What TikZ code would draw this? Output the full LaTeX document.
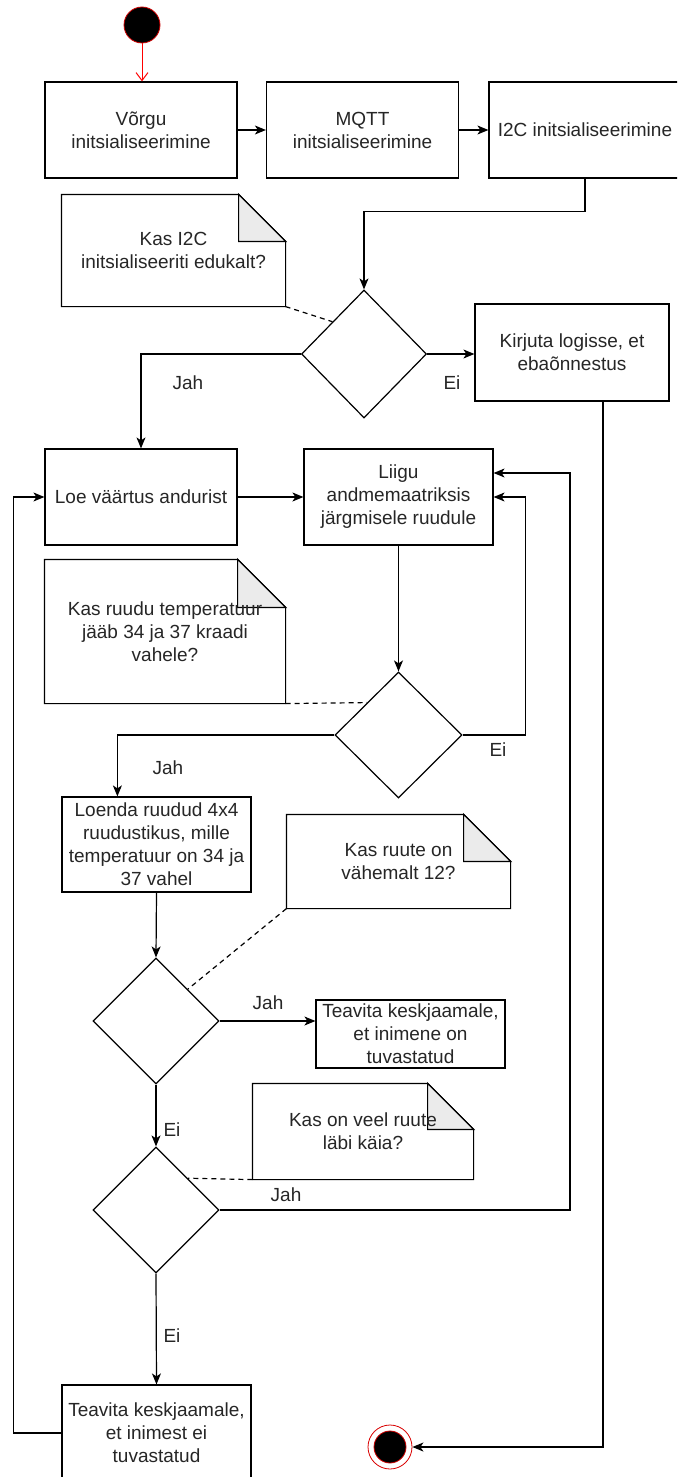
\documentclass[tikz,border=0pt]{standalone}
\usepackage{fontspec}
\setmainfont{Liberation Sans}
\usetikzlibrary{shapes.geometric,arrows.meta,calc,backgrounds}
\newcommand\drawnoteshape[2]{%
  \begin{scope}[on background layer]
  \draw[line width=1.2pt,fill=white] (#1.south west) -- (#1.north west) -- ($(#1.north east)+(-#2,0)$) -- ($(#1.north east)+(0,#2)$) -- (#1.south east) -- cycle;
  \draw[line width=1.2pt,fill=black!8] ($(#1.north east)+(-#2,0)$) -- ($(#1.north east)+(-#2,#2)$) -- ($(#1.north east)+(0,#2)$) -- cycle;
  \end{scope}}
\begin{document}
\begin{tikzpicture}[x=1pt,y=-1pt,line width=1.2pt,
  txt/.style={font=\fontsize{19}{23}\selectfont,text=black!85},
  box/.style={txt,draw,fill=white,align=center,inner sep=2pt,minimum width=192pt,minimum height=96pt},
  dia/.style={draw,diamond,fill=white,inner sep=0pt,minimum width=126pt,minimum height=126pt},
  notebox/.style={txt,align=center,inner sep=0pt},
  arr/.style={-{Stealth[length=11pt,width=9pt,inset=3pt]}},
  notelink/.style={dash pattern=on 5pt off 4pt},
  lbl/.style={txt,inner sep=0pt}]
\useasboundingbox (0,0) rectangle (677,1477);
\clip (0,0) rectangle (677,1477);

% start and end
\node[circle,fill=black,draw=red!80!black,line width=0.8pt,minimum size=36pt,inner sep=0pt] (start) at (142,25) {};
\node[circle,fill=white,draw=red!85!black,line width=0.8pt,minimum size=44pt,inner sep=0pt] (end) at (390,1447) {};
\node[circle,fill=black,draw=red!80!black,line width=0.8pt,minimum size=32pt,inner sep=0pt] (endin) at (390,1447) {};

% boxes
\node[box] (b1) at (141,130) {Võrgu\\initsialiseerimine};
\node[box] (b2) at (362.5,130) {MQTT\\initsialiseerimine};
\node[box] (b3) at (585,130) {I2C initsialiseerimine};
\node[box,minimum width=194pt,minimum height=97pt] (kirj) at (572,352.5) {Kirjuta logisse, et\\ebaõnnestus};
\node[box] (loe) at (141,497) {Loe väärtus andurist};
\node[box,minimum width=189pt] (liigu) at (398.5,497) {Liigu\\andmemaatriksis\\järgmisele ruudule};
\node[box,minimum width=189pt,minimum height=95pt] (loenda) at (156.5,844.5) {Loenda ruudud 4x4\\ruudustikus, mille\\temperatuur on 34 ja\\37 vahel};
\node[box,minimum width=189pt,minimum height=68pt] (teav1) at (410.5,1034) {Teavita keskjaamale,\\et inimene on\\tuvastatud};
\node[box,minimum width=189pt,minimum height=96pt] (teav2) at (156.5,1433) {Teavita keskjaamale,\\et inimest ei\\tuvastatud};

% diamonds
\node[dia,minimum width=125pt,minimum height=128pt] (d1) at (364,354) {};
\node[dia,minimum width=127pt] (d2) at (398.5,735) {};
\node[dia] (d3) at (156,1021) {};
\node[dia] (d4) at (156,1210) {};

% notes
\node[notebox,minimum width=223pt,minimum height=111pt] (n1) at (173.5,250.5) {Kas I2C\\initsialiseeriti edukalt?};
\drawnoteshape{n1}{47}
\node[notebox,minimum width=240pt,minimum height=143pt] (n2) at (165,631.5) {Kas ruudu temperatuur\\jääb 34 ja 37 kraadi\\vahele?};
\drawnoteshape{n2}{48}
\node[notebox,minimum width=223pt,minimum height=93pt] (n3) at (398.5,861.5) {Kas ruute on\\vähemalt 12?};
\drawnoteshape{n3}{47}
\node[notebox,minimum width=220pt,minimum height=95pt] (n4) at (363,1131.5) {Kas on veel ruute\\läbi käia?};
\drawnoteshape{n4}{46}

% connectors
\draw[red,line width=1pt,-{Straight Barb[length=8pt,width=12pt]}] (start.south) -- (b1.north -| start.south);
\draw[arr] (b1.east) -- (b2.west);
\draw[arr] (b2.east) -- (b3.west);
\draw[arr] (b3.south) -- ++(0,33) -| (d1.north);
\draw[notelink] (n1.south east) -- ($(d1.west)!0.5!(d1.north)$);
\draw[arr] (d1.east) -- (d1.east -| kirj.west);
\draw[arr] (d1.west) -| (loe.north);
\draw[arr] (loe.east) -- (liigu.west);
\draw[arr] (liigu.south) -- (d2.north);
\draw[notelink] (n2.south east) -- ($(d2.north)!0.49!(d2.west)$);
\draw[arr] (d2.east) -- ++(63,0) |- (liigu.east);
\draw[arr] (d2.west) -| ($(loenda.north west)+(56,0)$);
\draw[arr] (loenda.south) -- (d3.north);
\draw[notelink] (n3.south west) -- ($(d3.north)!0.5!(d3.east)$);
\draw[arr] (d3.east) -- (d3.east -| teav1.west);
\draw[arr] (d3.south) -- (d4.north);
\draw[notelink] (n4.south west) -- ($(d4.north)!0.5!(d4.east)$);
\draw[arr] (d4.east) -- (570,1210) |- ($(liigu.east)+(0,-24)$);
\draw[arr] (d4.south) -- (teav2.north);
\draw[arr] (teav2.west) -- ++(-48,0) |- (loe.west);
\draw[arr] ($(kirj.south)+(31,0)$) |- (end.east);

% labels
\node[lbl] (l1) at (188,383) {Jah};
\node[lbl] (l2) at (452,383) {Ei};
\node[lbl] (l3) at (498,750) {Ei};
\node[lbl] (l4) at (168,768) {Jah};
\node[lbl] (l5) at (268,1003) {Jah};
\node[lbl] (l6) at (172,1130) {Ei};
\node[lbl] (l7) at (286,1195) {Jah};
\node[lbl] (l8) at (172,1336) {Ei};
\end{tikzpicture}
\end{document}
